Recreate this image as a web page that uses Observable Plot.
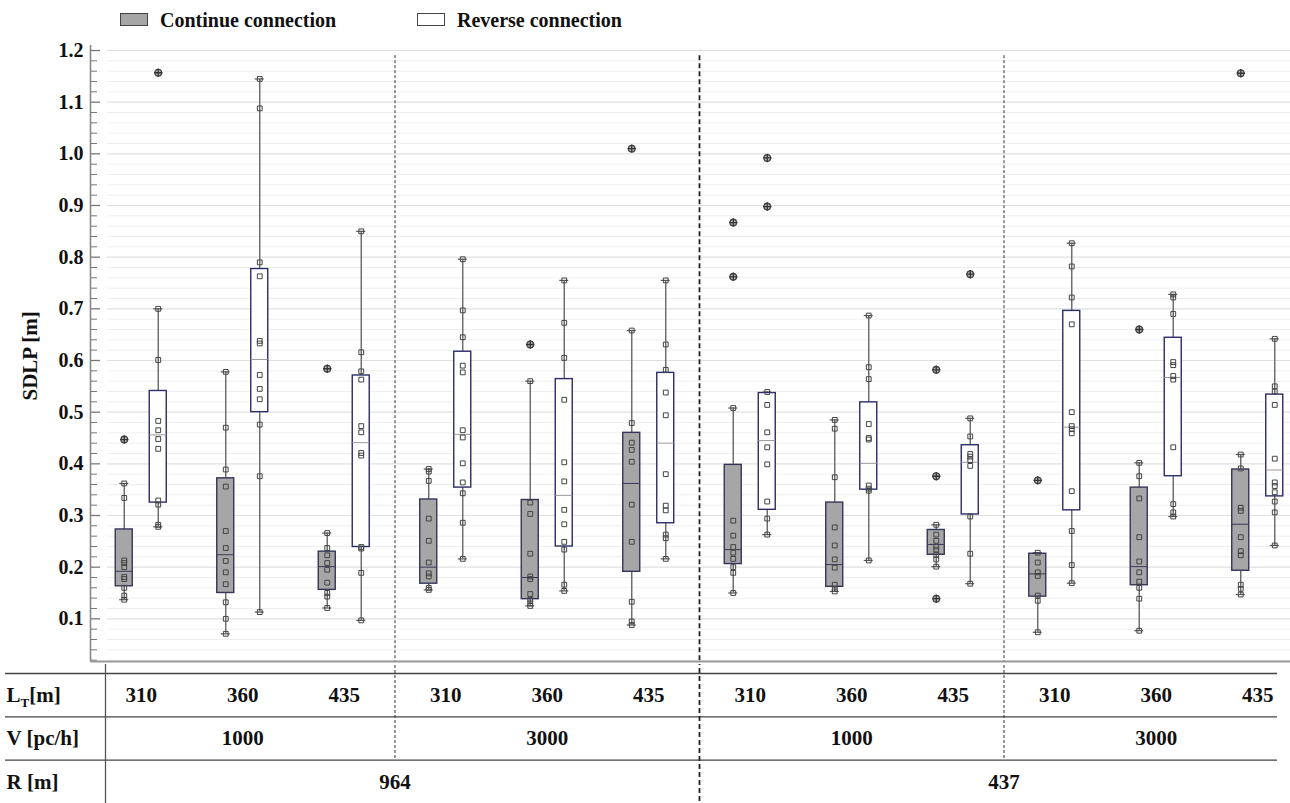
<!DOCTYPE html>
<html>
<head>
<meta charset="utf-8">
<script src="https://cdn.jsdelivr.net/npm/d3@7"></script>
<script src="https://cdn.jsdelivr.net/npm/@observablehq/plot@0.6"></script>
<style>
  html, body { margin: 0; padding: 0; background: #fff; overflow: hidden; width: 1290px; height: 803px; }
  #legend { position: relative; height: 36px; font-family: "Liberation Serif", "Times New Roman", serif; font-weight: bold; font-size: 20px; color: #111; }
  .sw { position: absolute; top: 13px; width: 28px; height: 13px; box-sizing: border-box; border: 1px solid #444; }
  .lt { position: absolute; top: 6px; line-height: 28px; white-space: nowrap; }
  svg { display: block; overflow: hidden; }
</style>
</head>
<body>
<div id="legend">
  <div class="sw" style="left:120px;background:#a6a6a6"></div>
  <div class="lt" style="left:160px">Continue connection</div>
  <div class="sw" style="left:417px;background:#fff"></div>
  <div class="lt" style="left:457px">Reverse connection</div>
</div>
<div id="chart"></div>
<div id="table"></div>
<script>
// ---------- categories / tick labels ----------
const LT = ["310", "360", "435"];
const V = ["1000", "3000"];
const R = ["964", "437"];
const seriesNames = ["Continue connection", "Reverse connection"];
const yTicks = [0.1, 0.2, 0.3, 0.4, 0.5, 0.6, 0.7, 0.8, 0.9, 1.0, 1.1, 1.2];
const yMinorTicks = d3.range(2, 121, 2).map(d => d / 100).filter(d => Math.round(d * 100) % 10 !== 0);

// ---------- Continue connection (12 groups: R x V x LT) ----------
const contLo  = [0.137, 0.071, 0.121, 0.156, 0.125, 0.088, 0.150, 0.153, 0.201, 0.074, 0.077, 0.147];
const contQ1  = [0.163, 0.150, 0.156, 0.168, 0.138, 0.191, 0.206, 0.162, 0.224, 0.143, 0.165, 0.193];
const contMed = [0.192, 0.224, 0.201, 0.200, 0.180, 0.362, 0.234, 0.205, 0.244, 0.187, 0.201, 0.283];
const contQ3  = [0.273, 0.372, 0.230, 0.331, 0.330, 0.460, 0.398, 0.325, 0.272, 0.226, 0.354, 0.389];
const contHi  = [0.362, 0.578, 0.266, 0.390, 0.560, 0.658, 0.508, 0.485, 0.282, 0.228, 0.402, 0.418];
const contPoints = [
  [0.137, 0.145, 0.160, 0.177, 0.181, 0.200, 0.208, 0.213, 0.334, 0.362],
  [0.071, 0.100, 0.132, 0.167, 0.190, 0.212, 0.237, 0.270, 0.356, 0.389, 0.470, 0.578],
  [0.121, 0.143, 0.150, 0.170, 0.195, 0.208, 0.223, 0.237, 0.266],
  [0.156, 0.160, 0.182, 0.188, 0.209, 0.251, 0.294, 0.367, 0.385, 0.390],
  [0.125, 0.130, 0.137, 0.148, 0.177, 0.182, 0.226, 0.303, 0.325, 0.560],
  [0.088, 0.095, 0.133, 0.249, 0.321, 0.404, 0.427, 0.441, 0.479, 0.658],
  [0.150, 0.189, 0.200, 0.216, 0.228, 0.239, 0.261, 0.290, 0.508],
  [0.153, 0.158, 0.166, 0.199, 0.215, 0.242, 0.277, 0.374, 0.468, 0.485],
  [0.201, 0.215, 0.224, 0.234, 0.240, 0.251, 0.263, 0.282],
  [0.074, 0.135, 0.145, 0.183, 0.190, 0.209, 0.228],
  [0.077, 0.139, 0.160, 0.172, 0.190, 0.211, 0.258, 0.333, 0.376, 0.402],
  [0.147, 0.158, 0.166, 0.223, 0.231, 0.258, 0.309, 0.315, 0.391, 0.418]
];
const contOutliers = [[0.447], [], [0.584], [], [0.631], [1.010], [0.762, 0.867], [], [0.139, 0.376, 0.582], [0.368], [0.660], [1.156]];

// ---------- Reverse connection ----------
const revLo  = [0.278, 0.113, 0.097, 0.216, 0.154, 0.216, 0.263, 0.213, 0.168, 0.169, 0.298, 0.242];
const revQ1  = [0.325, 0.500, 0.239, 0.354, 0.240, 0.285, 0.311, 0.350, 0.302, 0.310, 0.376, 0.337];
const revMed = [0.456, 0.602, 0.441, 0.457, 0.339, 0.440, 0.445, 0.401, 0.403, 0.471, 0.567, 0.388];
const revQ3  = [0.541, 0.777, 0.571, 0.617, 0.564, 0.576, 0.537, 0.519, 0.436, 0.696, 0.644, 0.534];
const revHi  = [0.700, 1.145, 0.850, 0.796, 0.755, 0.755, 0.539, 0.687, 0.488, 0.827, 0.728, 0.642];
const revPoints = [
  [0.278, 0.282, 0.321, 0.329, 0.429, 0.448, 0.465, 0.483, 0.601, 0.700],
  [0.113, 0.376, 0.476, 0.525, 0.545, 0.572, 0.633, 0.638, 0.763, 0.790, 1.088, 1.145],
  [0.097, 0.189, 0.236, 0.239, 0.416, 0.421, 0.461, 0.473, 0.563, 0.579, 0.616, 0.850],
  [0.216, 0.286, 0.343, 0.364, 0.401, 0.451, 0.465, 0.577, 0.590, 0.645, 0.697, 0.796],
  [0.154, 0.166, 0.234, 0.249, 0.283, 0.311, 0.366, 0.403, 0.524, 0.605, 0.673, 0.755],
  [0.216, 0.256, 0.263, 0.310, 0.319, 0.380, 0.494, 0.538, 0.582, 0.631, 0.755],
  [0.263, 0.294, 0.327, 0.399, 0.432, 0.461, 0.514, 0.539],
  [0.213, 0.348, 0.352, 0.358, 0.447, 0.450, 0.477, 0.564, 0.587, 0.687],
  [0.168, 0.226, 0.298, 0.396, 0.407, 0.414, 0.419, 0.453, 0.488],
  [0.169, 0.204, 0.270, 0.347, 0.459, 0.467, 0.473, 0.500, 0.670, 0.722, 0.782, 0.827],
  [0.298, 0.306, 0.322, 0.432, 0.563, 0.570, 0.591, 0.597, 0.690, 0.722, 0.728],
  [0.242, 0.306, 0.327, 0.345, 0.357, 0.364, 0.410, 0.514, 0.540, 0.550, 0.642]
];
const revOutliers = [[1.157], [], [], [], [], [], [0.898, 0.992], [], [0.767], [], [], []];

// ---------- layout ----------
const W = 1290;
const X0 = 90, X1 = 1308;            // x range (plot extends slightly past the right edge, as in the reference)
const pxU = (X1 - X0) / 12;
const u = px => px / pxU;            // pixels -> group units
const yMin = 0.0174, yMax = 1.2097;
const FONT = "'Liberation Serif', 'Times New Roman', serif";

const stats = {
  "Continue connection": {lo: contLo, q1: contQ1, med: contMed, q3: contQ3, hi: contHi, pts: contPoints, out: contOutliers, off: -17},
  "Reverse connection":  {lo: revLo,  q1: revQ1,  med: revMed,  q3: revQ3,  hi: revHi,  pts: revPoints,  out: revOutliers,  off: 17}
};

const boxes = [], points = [], outliers = [];
seriesNames.forEach(s => {
  const st = stats[s];
  for (let g = 0; g < 12; g++) {
    const x = g + 0.5 + u(st.off);
    boxes.push({s, g, x, lo: st.lo[g], q1: st.q1[g], med: st.med[g], q3: st.q3[g], hi: st.hi[g]});
    st.pts[g].forEach(v => points.push({s, g, x, v}));
    st.out[g].forEach(v => outliers.push({s, g, x, v}));
  }
});
const isCont = d => d.s === "Continue connection";
const hw = u(8.5), cap = u(4.5);

// thin "+" glyph (drawn as strokes) for outlier markers
const crossSymbol = {
  draw(ctx, size) {
    const r = Math.sqrt(size / Math.PI);
    ctx.moveTo(-r, 0); ctx.lineTo(r, 0);
    ctx.moveTo(0, -r); ctx.lineTo(0, r);
  }
};

const chart = Plot.plot({
  width: W, height: 628,
  marginLeft: X0, marginRight: W - X1, marginTop: 9, marginBottom: 3,
  style: {fontFamily: FONT, background: "white", overflow: "hidden", color: "#111"},
  x: {domain: [0, 12], range: [X0, X1], axis: null},
  y: {domain: [yMin, yMax]},
  marks: [
    Plot.ruleY(yMinorTicks, {x1: u(17), x2: 12, stroke: "#efefef", strokeWidth: 1}),
    Plot.ruleY(yTicks, {x1: u(17), x2: 12, stroke: "#e0e0e0", strokeWidth: 1.2}),
    Plot.ruleY(yMinorTicks, {x1: 0, x2: u(7), stroke: "#777", strokeWidth: 1}),
    Plot.ruleY(yTicks, {x1: 0, x2: u(10), stroke: "#777", strokeWidth: 1.3}),
    Plot.ruleX([3, 9], {y1: 1.19, y2: yMin, stroke: "#333", strokeWidth: 1, strokeDasharray: "3,2"}),
    Plot.ruleX([6], {y1: 1.19, y2: yMin, stroke: "#222", strokeWidth: 1.8, strokeDasharray: "5,3"}),
    Plot.ruleX(boxes, {x: "x", y1: "lo", y2: "hi", stroke: "#666", strokeWidth: 1.4}),
    Plot.ruleY(boxes, {y: "lo", x1: d => d.x - cap, x2: d => d.x + cap, stroke: "#555", strokeWidth: 1.2}),
    Plot.ruleY(boxes, {y: "hi", x1: d => d.x - cap, x2: d => d.x + cap, stroke: "#555", strokeWidth: 1.2}),
    Plot.rect(boxes, {x1: d => d.x - hw, x2: d => d.x + hw, y1: "q1", y2: "q3",
      fill: d => isCont(d) ? "#a6a6a6" : "#ffffff", stroke: d => isCont(d) ? "#35355a" : "#2c2c6a", strokeWidth: 1.4}),
    Plot.ruleY(boxes, {y: "med", x1: d => d.x - hw, x2: d => d.x + hw,
      stroke: d => isCont(d) ? "#3a3a5a" : "#999", strokeWidth: 1}),
    Plot.dot(points, {x: "x", y: "v", symbol: "square", r: 2.7, stroke: "#444", strokeWidth: 1, fill: "none"}),
    Plot.dot(outliers, {x: "x", y: "v", symbol: "circle", r: 3.3, stroke: "#444", strokeWidth: 1.3, fill: "#bbb"}),
    Plot.dot(outliers, {x: "x", y: "v", symbol: crossSymbol, r: 4.2, stroke: "#333", strokeWidth: 1.3, fill: "none"}),
    Plot.ruleX([0], {stroke: "#888", strokeWidth: 1.6}),
    Plot.ruleY([yMin], {stroke: "#999", strokeWidth: 2}),
    Plot.axisY(yTicks, {tickSize: 0, tickPadding: 7, fontSize: 20, fontWeight: "bold", tickFormat: d3.format(".1f"), label: null}),
    Plot.text(["SDLP [m]"], {frameAnchor: "left", dx: -60, dy: 47, rotate: -90, fontSize: 21, fontWeight: "bold", fill: "#111"})
  ]
});
document.getElementById("chart").appendChild(chart);

// ---------- hierarchical category table below the plot ----------
const groupsLT = d3.range(12).map(g => ({label: LT[g % 3], x: g + 0.5, row: 0.5}));
const groupsV = d3.range(4).map(k => ({label: V[k % 2], x: k * 3 + 1.5, row: 1.5}));
const groupsR = d3.range(2).map(k => ({label: R[k], x: k * 6 + 3, row: 2.5}));
const rowLabels = [{label: "LT[m]", row: 0.5}, {label: "V [pc/h]", row: 1.5}, {label: "R [m]", row: 2.5}];

const table = Plot.plot({
  width: W, height: 139,
  marginLeft: X0, marginRight: W - X1, marginTop: 0, marginBottom: 0,
  style: {fontFamily: FONT, background: "white", overflow: "hidden", color: "#111"},
  x: {domain: [0, 12], range: [X0, X1], axis: null},
  y: {domain: [0, 3], range: [9, 139], axis: null},
  marks: [
    Plot.ruleY([0, 1, 2], {x1: u(5 - X0), x2: u(1277 - X0), stroke: "#444", strokeWidth: 1.3}),
    Plot.ruleX([u(105 - X0)], {y1: -0.3, y2: 3, stroke: "#555", strokeWidth: 1.3}),
    Plot.ruleX([3, 9], {y1: -0.3, y2: 2, stroke: "#333", strokeWidth: 1, strokeDasharray: "3,2"}),
    Plot.ruleX([6], {y1: -0.3, y2: 3, stroke: "#222", strokeWidth: 1.8, strokeDasharray: "5,3"}),
    Plot.text(rowLabels, {frameAnchor: "left", dx: -84, y: "row", text: "label", textAnchor: "start", fontSize: 21, fontWeight: "bold", fill: "#111"}),
    Plot.text(groupsLT, {x: "x", y: "row", text: "label", fontSize: 21, fontWeight: "bold", fill: "#111"}),
    Plot.text(groupsV, {x: "x", y: "row", text: "label", fontSize: 21, fontWeight: "bold", fill: "#111"}),
    Plot.text(groupsR, {x: "x", y: "row", text: "label", fontSize: 21, fontWeight: "bold", fill: "#111"})
  ]
});
document.getElementById("table").appendChild(table);

// subscript T in "LT[m]"
d3.select(table).selectAll("text").each(function () {
  if (this.textContent === "LT[m]") {
    this.textContent = "";
    const t = d3.select(this);
    t.append("tspan").text("L");
    t.append("tspan").attr("font-size", 13).attr("dy", 5).text("T");
    t.append("tspan").attr("dy", -5).text("[m]");
  }
});
</script>
</body>
</html>
